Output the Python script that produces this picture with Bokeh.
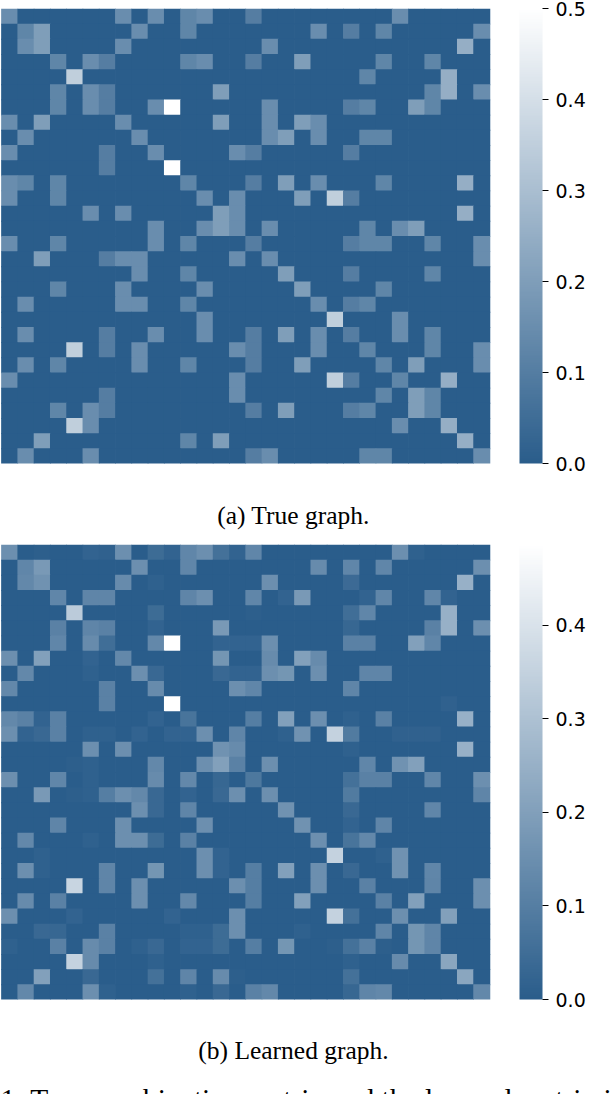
from bokeh.plotting import figure
from bokeh.layouts import column
from bokeh.models import Range1d, LinearColorMapper, ColorBar, FixedTicker, ColumnDataSource, PrintfTickFormatter
from bokeh.core.properties import value
from bokeh.embed import file_html
from bokeh.resources import INLINE

a, b, c, d, e, f, w = 0.10, 0.125, 0.15, 0.20, 0.25, 0.35, 0.50
W = 0.486

true_graph = [
    {0:c,7:c,9:c,11:b,12:c,15:a,24:c},
    {1:b,2:d,8:c,11:b,19:c,21:a,23:b,29:c},
    {1:c,2:d,7:c,16:c,28:e},
    {3:b,5:c,6:a,11:b,12:c,15:a,18:d,23:b,26:b},
    {4:f,22:b,27:e},
    {3:b,5:c,6:a,13:d,26:b,27:e,29:c},
    {3:b,5:c,6:a,9:c,10:w,16:c,21:a,22:b,25:d,26:b},
    {0:c,2:d,7:c,13:d,16:c,18:d,19:c},
    {1:c,8:c,16:c,17:d,19:c,22:b,23:b},
    {0:c,6:a,9:c,14:c,15:a,21:a},
    {6:a,10:w},
    {0:c,1:b,3:b,11:b,15:a,17:d,19:c,23:b,28:e},
    {0:c,3:b,12:c,14:c,18:d,20:f,21:a},
    {5:c,7:c,13:d,14:c,28:e},
    {9:c,12:c,13:d,14:c,16:c,22:b,24:c,25:d},
    {0:c,3:b,9:c,11:b,15:a,21:a,22:b,23:b,26:b,29:c},
    {2:d,6:a,7:c,8:c,14:c,16:c,29:c},
    {8:c,11:b,17:d,21:a,26:b},
    {3:b,7:c,12:c,18:d,23:b},
    {1:c,7:c,8:c,11:b,19:c,21:a,22:b},
    {12:c,20:f,24:c},
    {1:c,6:a,9:c,12:c,15:a,17:d,19:c,21:a,24:c,26:b},
    {4:f,6:a,8:c,14:c,15:a,19:c,22:b,26:b,29:c},
    {1:c,3:b,8:c,11:b,15:a,18:d,23:b,25:d,29:c},
    {0:c,14:c,20:f,21:a,24:b,27:e},
    {6:a,14:c,23:b,25:d,26:b},
    {3:b,5:c,6:a,15:a,17:d,21:a,22:b,25:d,26:b},
    {4:f,5:c,24:c,27:e},
    {2:d,11:b,13:d,28:e},
    {1:c,5:c,15:a,16:c,22:b,23:b,29:c},
]

learned_graph = [
    {0:c,2:.006,5:.02,6:.015,7:c,9:.045,10:.02,11:b,12:c,13:.06,14:.02,15:b,24:c,25:.012},
    {1:b,2:.18,8:c,11:b,19:.14,21:b,23:b,29:c},
    {1:.13,2:.16,7:.14,9:.012,16:c,21:.04,28:e},
    {3:b,5:.12,6:.12,11:.12,12:c,15:b,17:.02,18:.18,22:.02,23:b,26:b,27:.02},
    {4:.33,9:.045,15:.006,21:.05,22:b,27:e},
    {3:.11,5:.12,6:.11,9:.02,13:.18,21:.03,26:.11,27:e,29:c},
    {3:b,5:.14,6:.05,9:.13,10:W,13:.02,14:.02,15:.02,16:c,21:.11,22:.11,25:d,26:b},
    {0:c,2:d,5:.02,7:.13,13:.17,16:.14,18:d,19:.14},
    {1:.13,5:.012,8:c,9:.035,13:.035,14:.02,15:.02,16:c,17:.17,19:c,22:.12,23:.12},
    {0:.13,6:.11,9:.14,14:c,15:b,21:.12},
    {6:.11,10:W,27:.015},
    {0:.13,1:.11,2:.02,3:.11,9:.02,11:.07,15:.1,17:d,19:c,21:.012,23:.11,28:e},
    {0:c,1:.02,2:.035,3:.11,5:.012,6:.012,8:.02,10:.02,11:.02,12:c,14:.12,17:.012,18:.16,20:f,21:.09,24:.015,25:.015,26:.015},
    {5:.15,7:.15,13:.16,14:.14,21:.012,28:e},
    {4:.006,5:.012,9:.13,12:c,13:d,14:.11,16:c,22:b,24:.16,25:d},
    {0:c,3:b,5:.012,9:.14,11:.13,13:.03,15:.08,21:.06,22:.11,23:.11,26:b,29:c},
    {2:.18,4:.006,5:.012,6:.1,7:c,8:.13,9:.035,11:.02,13:.035,14:c,16:c,21:.09,29:.12},
    {8:c,9:.035,11:.12,17:.16,21:.035,26:b},
    {3:.12,7:c,12:c,18:.16,21:.02,23:.12},
    {1:.13,5:.012,7:c,8:c,9:.045,11:.11,19:c,21:.07,22:.13},
    {2:.012,12:.15,13:.02,20:f,23:.012,24:.16},
    {1:c,2:.012,6:.12,9:.17,12:.15,13:.02,15:.1,17:d,19:.15,21:.035,24:.16,26:b},
    {4:.36,6:.12,8:.15,14:c,15:.1,19:.15,22:.11,26:.12,29:c},
    {1:.14,3:.11,8:.15,11:.13,15:.1,18:d,23:.11,25:d,29:c},
    {0:c,4:.02,10:.02,14:c,20:f,21:.06,24:.15,27:.2},
    {2:.035,3:.03,6:.11,11:.012,12:.012,13:.045,14:c,18:.012,23:.12,25:.17,26:.12},
    {0:.012,3:.11,5:.14,6:.11,8:.012,9:.035,11:.02,12:.02,13:.045,15:.1,17:.17,20:.006,21:.06,22:.11,23:.006,25:.17,26:.12},
    {4:f,5:.14,9:.012,21:.012,24:.14,27:.22},
    {2:d,5:.035,9:.06,11:.12,13:.14,14:.006,21:.06,28:.22},
    {1:.13,5:.15,6:.012,11:.012,13:.035,15:.11,16:.13,21:.03,22:.12,23:.13,29:.13},
]

true_ticks = [0.0, 0.1, 0.2, 0.3, 0.4, 0.5]
learned_ticks = [0.0, 0.1, 0.2, 0.3, 0.4]
true_max = 0.5
learned_max = 0.486
n_cells = 30
captions = ["(a) True graph.", "(b) Learned graph."]
footer = "1:  True combination matrix and the learned matrix i"

low_rgb, high_rgb = (42, 93, 139), (255, 255, 255)
palette = ["#%02x%02x%02x" % tuple(round(l + (h - l) * i / 255) for l, h in zip(low_rgb, high_rgb)) for i in range(256)]

CELL_W = 16.28
SERIF = value("Liberation Serif")


def panel(rows, high, ticks, top, bottom):
    p = figure(width=612, height=top + 455 + bottom, output_backend="svg", toolbar_location=None,
               x_range=Range1d(-0.04, -0.04 + 519 / CELL_W), y_range=Range1d(n_cells, 0),
               x_axis_type=None, y_axis_type=None,
               frame_width=519, frame_height=455,
               min_border_left=0, min_border_top=top, min_border_right=0, min_border_bottom=bottom)
    p.grid.visible = False
    p.outline_line_color = None
    xs, ys, vs = [], [], []
    for r, row in enumerate(rows):
        for k in range(n_cells):
            xs.append(k + 0.5)
            ys.append(r + 0.5)
            vs.append(row.get(k, 0.0))
    mapper = LinearColorMapper(palette=palette, low=0, high=high)
    src = ColumnDataSource(dict(x=xs, y=ys, v=vs))
    p.rect("x", "y", 1, 1, source=src, fill_color={"field": "v", "transform": mapper},
           line_color=None, dilate=True)
    cb = ColorBar(color_mapper=mapper, ticker=FixedTicker(ticks=ticks), width=23, padding=0,
                  major_tick_in=0, major_tick_out=6, major_tick_line_color="black", major_tick_line_width=1,
                  minor_tick_line_color=None, bar_line_color=None, label_standoff=7,
                  major_label_text_font="DejaVu Sans", major_label_text_font_size="19px",
                  major_label_text_color="black", formatter=PrintfTickFormatter(format="%.1f"))
    p.add_layout(cb, "right")
    return p


def strip(height, items):
    s = figure(width=612, height=height, frame_width=612, frame_height=height,
               output_backend="svg", toolbar_location=None,
               x_range=Range1d(0, 612), y_range=Range1d(height, 0),
               x_axis_type=None, y_axis_type=None, min_border=0)
    s.grid.visible = False
    s.outline_line_color = None
    for x, y, t, align, baseline, size in items:
        s.text([x], [y], text=[t], text_font=SERIF, text_font_size=size, text_color="black",
               text_align=align, text_baseline=baseline)
    return s


pa = panel(true_graph, true_max, true_ticks, 8, 10)
cap_a = strip(71, [(293, 42, captions[0], "center", "alphabetic", "25.5px")])
pb = panel(learned_graph, learned_max, learned_ticks, 0, 10)
cap_b = strip(85, [(293, 41, captions[1], "center", "alphabetic", "25.5px"),
                   (0, 73, footer, "left", "top", "29.5px")])
page = column(pa, cap_a, pb, cap_b, spacing=0)
open("out.html", "w").write(file_html(page, INLINE))
